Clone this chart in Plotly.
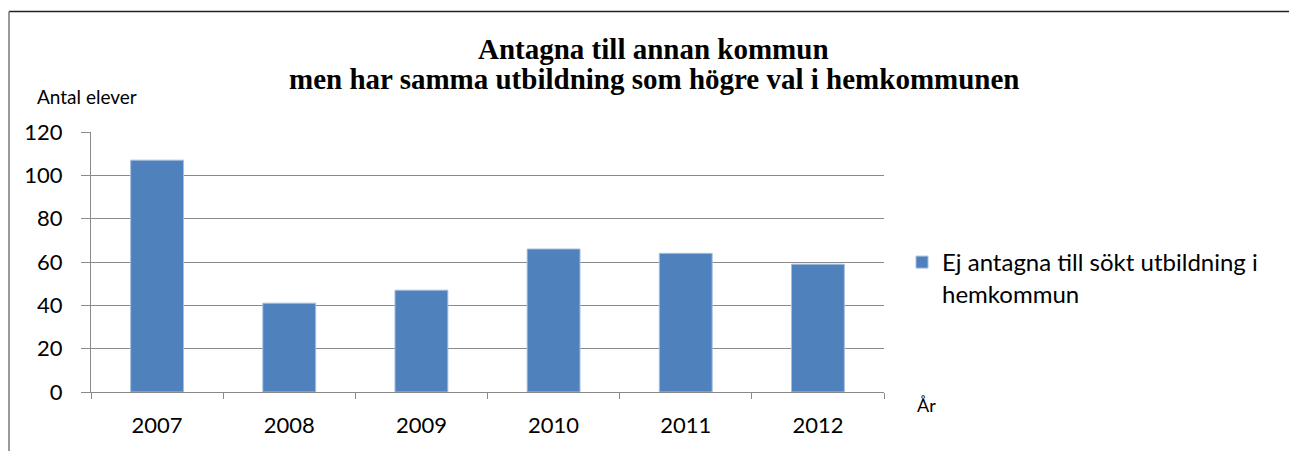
import plotly.graph_objects as go

years = ["2007", "2008", "2009", "2010", "2011", "2012"]
values = [107, 41, 47, 66, 64, 59]
series_name = "Ej antagna till sökt utbildning i<br>hemkommun"
title_line1 = "Antagna till annan kommun"
title_line2 = "men har samma utbildning som högre val i hemkommunen"
y_title = "Antal elever"
x_title = "År"

W, H = 1289, 451
L, R, T, B = 91, 884, 132, 392

def px_x(x):
    return (x - L) / (R - L)

def px_y(y):
    return (B - y) / (B - T)

tick_font = dict(family="Lato, Open Sans, sans-serif", size=22, color="#000000")
legend_font = dict(family="Lato, Open Sans, sans-serif", size=24, color="#000000")
grid_col = "#8a8a8a"

fig = go.Figure()
fig.add_trace(go.Bar(
    x=years, y=values, name=series_name,
    marker=dict(color="#4F81BD", line=dict(color="#a7bedd", width=1)),
    width=0.4, showlegend=True,
))

fig.update_layout(
    width=W, height=H,
    margin=dict(l=L, r=W - R, t=T, b=H - B, pad=0),
    paper_bgcolor="white", plot_bgcolor="white",
    showlegend=True,
    legend=dict(
        x=px_x(902), y=px_y(240), xanchor="left", yanchor="top",
        font=legend_font, valign="top", bgcolor="rgba(0,0,0,0)",
    ),
    xaxis=dict(
        type="category", showline=True, linecolor=grid_col, linewidth=1,
        ticks="outside", tickson="boundaries", ticklen=6, tickcolor=grid_col,
        showgrid=False, tickfont=tick_font, ticklabelstandoff=14,
        zeroline=False,
    ),
    yaxis=dict(
        range=[0, 120], dtick=20, tick0=0,
        showline=True, linecolor=grid_col, linewidth=1,
        ticks="outside", ticklen=9, tickcolor=grid_col,
        showgrid=True, gridcolor=grid_col, gridwidth=1,
        tickfont=tick_font, zeroline=False, ticklabelstandoff=14,
    ),
    annotations=[
        dict(text="<b>%s</b>" % title_line1, x=px_x(653), y=px_y(49),
             xref="paper", yref="paper", xanchor="center", yanchor="middle",
             showarrow=False,
             font=dict(family="Liberation Serif, Times New Roman, serif", size=29, color="#000")),
        dict(text="<b>%s</b>" % title_line2, x=px_x(654), y=px_y(79),
             xref="paper", yref="paper", xanchor="center", yanchor="middle",
             showarrow=False,
             font=dict(family="Liberation Serif, Times New Roman, serif", size=29, color="#000")),
        dict(text=y_title, x=px_x(35), y=px_y(96),
             xref="paper", yref="paper", xanchor="left", yanchor="middle",
             showarrow=False,
             font=dict(family="Lato, Open Sans, sans-serif", size=19, color="#000")),
        dict(text=x_title, x=px_x(915), y=px_y(405),
             xref="paper", yref="paper", xanchor="left", yanchor="middle",
             showarrow=False,
             font=dict(family="Lato, Open Sans, sans-serif", size=18, color="#000")),
    ],
    shapes=[
        dict(type="line", xref="paper", yref="paper",
             x0=px_x(9), x1=px_x(1300), y0=px_y(11.5), y1=px_y(11.5),
             line=dict(color="#222222", width=1.5)),
        dict(type="line", xref="paper", yref="paper",
             x0=px_x(9), x1=px_x(9), y0=px_y(11.5), y1=px_y(460),
             line=dict(color="#777777", width=1.5)),
    ],
)

fig.write_html("out.html", config={"displayModeBar": False},
               post_script="document.body.style.margin='0';")
